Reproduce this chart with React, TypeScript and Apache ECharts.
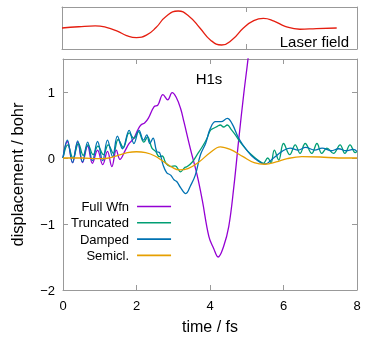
import React, { useEffect, useRef } from "react";
import * as echarts from "echarts";

// ---- Data (time in fs) ----
const laserField: [number, number][] = [
  [0, 0], [0.45, 0.06], [0.9, 0.1], [1.2, 0.03], [1.5, -0.15], [1.75, -0.36], [2.02, -0.46],
  [2.3, -0.33], [2.55, 0.02], [2.82, 0.55], [3.15, 0.81], [3.45, 0.55], [3.74, 0.0],
  [4.03, -0.58], [4.33, -0.81], [4.62, -0.55], [4.92, 0.0], [5.2, 0.35], [5.46, 0.46],
  [5.75, 0.33], [6.05, 0.08], [6.45, -0.06], [6.9, -0.03], [7.45, 0.0],
];

const fullWfn: [number, number][] = [
  [0, 0], [0.12, 0.25], [0.26, -0.07], [0.4, 0.24], [0.53, -0.07], [0.67, 0.18], [0.8, -0.08],
  [0.94, 0.12], [1.08, -0.1], [1.21, 0.1], [1.33, -0.13], [1.45, 0.12], [1.55, -0.02],
  [1.68, 0.1], [1.8, 0.22], [1.93, 0.3], [2.03, 0.42], [2.12, 0.5], [2.22, 0.53], [2.32, 0.6],
  [2.48, 0.78], [2.58, 0.8], [2.72, 0.96], [2.85, 0.88], [2.97, 0.99], [3.08, 0.92],
  [3.2, 0.75], [3.29, 0.55], [3.47, 0.13], [3.65, -0.26], [3.79, -0.64], [3.97, -1.19],
  [4.1, -1.37], [4.22, -1.5], [4.37, -1.34], [4.51, -1.04], [4.65, -0.43], [4.78, 0.27],
  [4.92, 0.98], [5.03, 1.48], [5.15, 2.1],
];

const truncated: [number, number][] = [
  [0, 0], [0.13, 0.2], [0.27, 0.0], [0.42, 0.22], [0.55, 0.04], [0.68, 0.2], [0.82, 0.05],
  [0.95, 0.18], [1.1, 0.05], [1.23, 0.2], [1.37, 0.07], [1.5, 0.28], [1.64, 0.16], [1.8, 0.38],
  [1.93, 0.3], [2.05, 0.4], [2.2, 0.24], [2.3, 0.32], [2.42, 0.15], [2.52, 0.1], [2.62, 0.02],
  [2.7, 0.03], [2.8, -0.08], [2.93, -0.13], [3.05, -0.12], [3.2, -0.21], [3.3, -0.15],
  [3.38, -0.13], [3.52, -0.06], [3.65, 0.05], [3.79, 0.17], [3.92, 0.3], [4.01, 0.42],
  [4.1, 0.45], [4.2, 0.48], [4.28, 0.5], [4.37, 0.47], [4.47, 0.5], [4.58, 0.43], [4.69, 0.35],
  [4.85, 0.22], [5.0, 0.12], [5.19, 0.02], [5.35, -0.05], [5.45, -0.08], [5.57, 0.0],
  [5.66, -0.07], [5.75, 0.12], [5.87, -0.03], [6.0, 0.22], [6.17, 0.05], [6.32, 0.2],
  [6.45, 0.07], [6.59, 0.22], [6.77, 0.07], [6.91, 0.22], [7.04, 0.07], [7.18, 0.15],
  [7.36, 0.07], [7.54, 0.2], [7.67, 0.07], [7.81, 0.2], [7.95, 0.08], [8.0, 0.1],
];

const damped: [number, number][] = [
  [0, 0], [0.12, 0.27], [0.26, -0.07], [0.4, 0.26], [0.53, -0.06], [0.67, 0.24], [0.8, -0.04],
  [0.94, 0.25], [1.08, -0.04], [1.21, 0.27], [1.35, 0.02], [1.48, 0.33], [1.62, 0.14],
  [1.8, 0.42], [1.93, 0.22], [2.07, 0.42], [2.19, 0.27], [2.28, 0.35], [2.36, 0.22],
  [2.45, 0.3], [2.55, 0.1], [2.63, 0.08], [2.72, -0.1], [2.82, -0.22], [2.93, -0.26],
  [3.02, -0.33], [3.1, -0.36], [3.2, -0.45], [3.34, -0.54], [3.47, -0.42], [3.6, -0.26],
  [3.74, 0.05], [3.88, 0.22], [4.01, 0.45], [4.15, 0.55], [4.3, 0.55], [4.47, 0.6],
  [4.6, 0.52], [4.78, 0.3], [5.0, 0.12], [5.2, 0.0], [5.5, -0.09], [5.73, 0.0], [5.96, 0.1],
  [6.18, 0.15], [6.4, 0.12], [6.6, 0.16], [6.85, 0.12], [7.05, 0.15], [7.3, 0.11],
  [7.5, 0.14], [7.7, 0.11], [7.9, 0.13], [8.0, 0.1],
];

const semicl: [number, number][] = [
  [0, 0], [0.5, 0], [1.0, -0.01], [1.25, 0.0], [1.5, 0.04], [1.75, 0.08], [2.0, 0.095],
  [2.25, 0.08], [2.5, 0.03], [2.75, -0.06], [3.0, -0.15], [3.15, -0.18], [3.4, -0.16],
  [3.7, -0.06], [4.0, 0.08], [4.28, 0.17], [4.55, 0.13], [4.9, 0.02], [5.2, -0.07],
  [5.5, -0.095], [5.8, -0.06], [6.1, -0.01], [6.5, 0.02], [7.0, 0.015], [7.5, 0.0], [8.0, 0.0],
];

const seriesNames = ["Full Wfn", "Truncated", "Damped", "Semicl."];
const seriesColors = ["#9400d3", "#009e73", "#0072b2", "#e69f00"];
const seriesData = [fullWfn, truncated, damped, semicl];
const laserColor = "#e51e10";

export default function App() {
  const ref = useRef<HTMLDivElement>(null);
  useEffect(() => {
    const chart = echarts.init(ref.current!, null, { renderer: "svg" });
    const font = "'Liberation Sans', Arial, sans-serif";
    const border = "#999999";
    const minus = (v: number) => String(v).replace("-", "\u2212");
    const frameAxis = (extra: any) => ({
      type: "value",
      axisLine: { show: true, onZero: false, lineStyle: { color: border, width: 1 } },
      axisTick: { show: false },
      axisLabel: { show: false },
      splitLine: { show: false },
      ...extra,
    });
    const inTick = { show: true, inside: true, length: 5, lineStyle: { color: border } };
    chart.setOption({
      animation: false,
      textStyle: { fontFamily: font },
      grid: [
        { left: 62, right: 25, top: 7, height: 42 },
        { left: 62, right: 25, top: 59, bottom: 51 },
      ],
      xAxis: [
        frameAxis({ gridIndex: 0, position: "bottom", min: 0, max: 8, interval: 5, axisTick: inTick }),
        frameAxis({ gridIndex: 0, position: "top", min: 0, max: 8, interval: 5, axisTick: inTick }),
        frameAxis({
          gridIndex: 1, position: "bottom", min: 0, max: 8, interval: 2, axisTick: inTick,
          axisLabel: { show: true, color: "#000", fontSize: 13, margin: 9, fontFamily: font },
          name: "time / fs", nameLocation: "middle", nameGap: 28,
          nameTextStyle: { color: "#000", fontSize: 16, fontFamily: font },
        }),
        frameAxis({ gridIndex: 1, position: "top", min: 0, max: 8, interval: 2, axisTick: inTick }),
      ],
      yAxis: [
        frameAxis({ gridIndex: 0, position: "left", min: -1, max: 1 }),
        frameAxis({ gridIndex: 0, position: "right", min: -1, max: 1 }),
        frameAxis({
          gridIndex: 1, position: "left", min: -2, max: 1.5, interval: 1, axisTick: inTick,
          axisLabel: {
            show: true, color: "#000", fontSize: 13, margin: 8, fontFamily: font,
            showMaxLabel: false, formatter: minus,
          },
          name: "displacement / bohr", nameLocation: "middle", nameGap: 38,
          nameTextStyle: { color: "#000", fontSize: 16.5, fontFamily: font },
        }),
        frameAxis({ gridIndex: 1, position: "right", min: -2, max: 1.5, interval: 1, axisTick: inTick }),
      ],
      legend: {
        data: seriesNames.map((name) => ({ name, icon: "rect" })),
        orient: "vertical",
        align: "right",
        left: 66,
        top: 195,
        itemWidth: 34,
        itemHeight: 1.6,
        itemGap: 3.3,
        textStyle: { color: "#000", fontSize: 13, fontFamily: font, padding: [0, 3, 0, 0] },
        selectedMode: false,
      },
      graphic: [
        {
          type: "text", x: 209, y: 78,
          style: { text: "H1s", font: `15px ${font}`, fill: "#000", textAlign: "center", textVerticalAlign: "middle" },
        },
        {
          type: "text", x: 349, y: 41,
          style: { text: "Laser field", font: `15px ${font}`, fill: "#000", textAlign: "right", textVerticalAlign: "middle" },
        },
      ],
      series: [
        {
          type: "line", name: "Laser field", xAxisIndex: 0, yAxisIndex: 0, data: laserField,
          symbol: "none", smooth: 0.5, lineStyle: { color: laserColor, width: 1.3 }, itemStyle: { color: laserColor },
        },
        ...seriesNames.map((name, i) => ({
          type: "line", name, xAxisIndex: 2, yAxisIndex: 2, data: seriesData[i],
          symbol: "none", smooth: 0.4, clip: true,
          lineStyle: { color: seriesColors[i], width: 1.3 }, itemStyle: { color: seriesColors[i] },
        })),
      ],
    });
    return () => chart.dispose();
  }, []);
  return <div ref={ref} style={{ position: "fixed", left: 0, top: 0, width: 382, height: 341 }} />;
}
